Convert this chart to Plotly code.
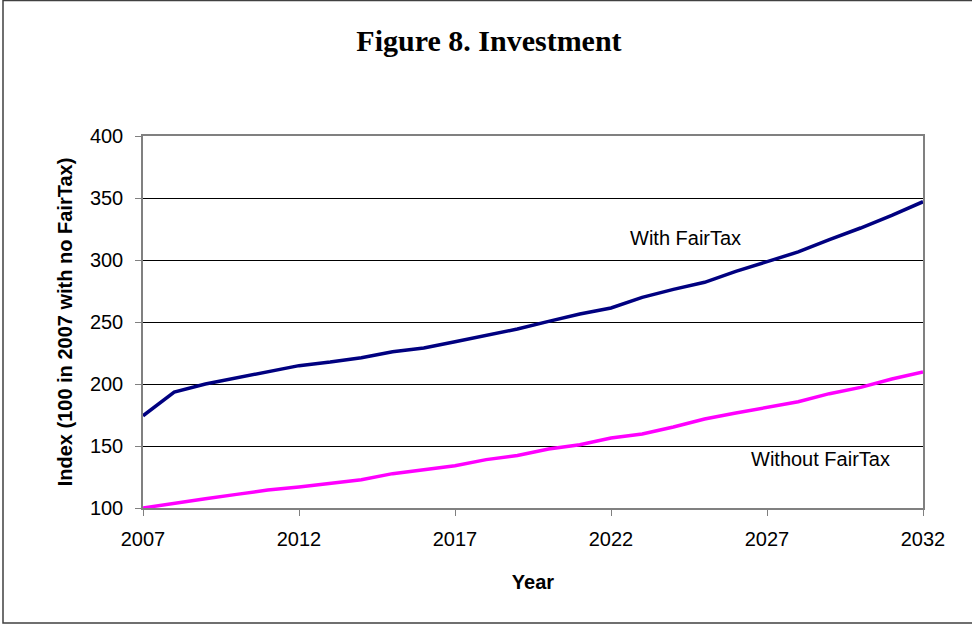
import plotly.graph_objects as go

years = list(range(2007, 2033))
with_fairtax = [174.4, 193.5, 200.0, 204.8, 210.0, 214.8, 217.7, 221.2, 226.0, 229.0,
                234.1, 239.0, 244.3, 250.5, 256.5, 261.3, 269.9, 276.3, 282.0, 290.8,
                298.9, 306.5, 316.4, 325.8, 336.0, 347.0]
without_fairtax = [100.0, 104.0, 107.5, 111.0, 114.5, 117.0, 119.6, 122.8, 127.7, 131.1,
                   134.1, 139.0, 142.4, 147.6, 151.0, 156.4, 159.7, 165.3, 171.8, 176.6,
                   181.1, 185.7, 192.2, 197.3, 204.0, 209.7]
x_ticks = [2007, 2012, 2017, 2022, 2027, 2032]
y_ticks = [100, 150, 200, 250, 300, 350, 400]

W, H = 972, 625
ML, MR, MT, MB = 143, 49, 136, 117
PW, PH = W - ML - MR, H - MT - MB

fig = go.Figure()
fig.add_trace(go.Scatter(x=years, y=with_fairtax, mode="lines", name="With FairTax",
                         line=dict(color="#000080", width=3.5)))
fig.add_trace(go.Scatter(x=years, y=without_fairtax, mode="lines", name="Without FairTax",
                         line=dict(color="#FF00FF", width=3.5)))

def px_x(p):
    return (p - ML) / PW

def px_y(p):
    return (H - MB - p) / PH

fig.add_shape(type="rect", xref="paper", yref="paper",
              x0=px_x(3), x1=px_x(980), y0=px_y(623), y1=px_y(0.5),
              line=dict(color="#404040", width=1.5), fillcolor="rgba(0,0,0,0)", layer="below")

fig.add_annotation(x=2024.4, y=318, text="With FairTax", showarrow=False,
                   font=dict(family="Arial, Liberation Sans", size=20, color="black"))
fig.add_annotation(x=2028.7, y=139.8, text="Without FairTax", showarrow=False,
                   font=dict(family="Arial, Liberation Sans", size=20, color="black"))

fig.update_layout(
    width=W, height=H,
    margin=dict(l=ML, r=MR, t=MT, b=MB),
    paper_bgcolor="white", plot_bgcolor="white",
    showlegend=False,
    title=dict(text="<b>Figure 8. Investment</b>", x=489 / W, xanchor="center",
               y=1 - 40 / H, yanchor="middle",
               font=dict(family="Liberation Serif, Times New Roman", size=30, color="black")),
    font=dict(family="Arial, Liberation Sans", size=20, color="black"),
)
fig.update_xaxes(range=[2007, 2032], tickvals=x_ticks, ticktext=[str(v) for v in x_ticks],
                 showgrid=False, zeroline=False,
                 showline=True, linecolor="#808080", linewidth=1.5, mirror=True,
                 ticks="outside", ticklen=6, tickcolor="#808080",
                 tickfont=dict(size=20), ticklabelstandoff=6,
                 title=dict(text="<b>Year</b>", font=dict(size=20), standoff=26))
fig.update_yaxes(range=[100, 400], tickvals=y_ticks,
                 showgrid=True, gridcolor="black", gridwidth=1, zeroline=False,
                 showline=True, linecolor="#808080", linewidth=1.5, mirror=True,
                 ticks="outside", ticklen=6, tickcolor="#808080",
                 tickfont=dict(size=20), ticklabelstandoff=8,
                 title=dict(text="<b>Index (100 in 2007 with no FairTax)</b>",
                            font=dict(size=20), standoff=12))

fig.write_html("out.html")
